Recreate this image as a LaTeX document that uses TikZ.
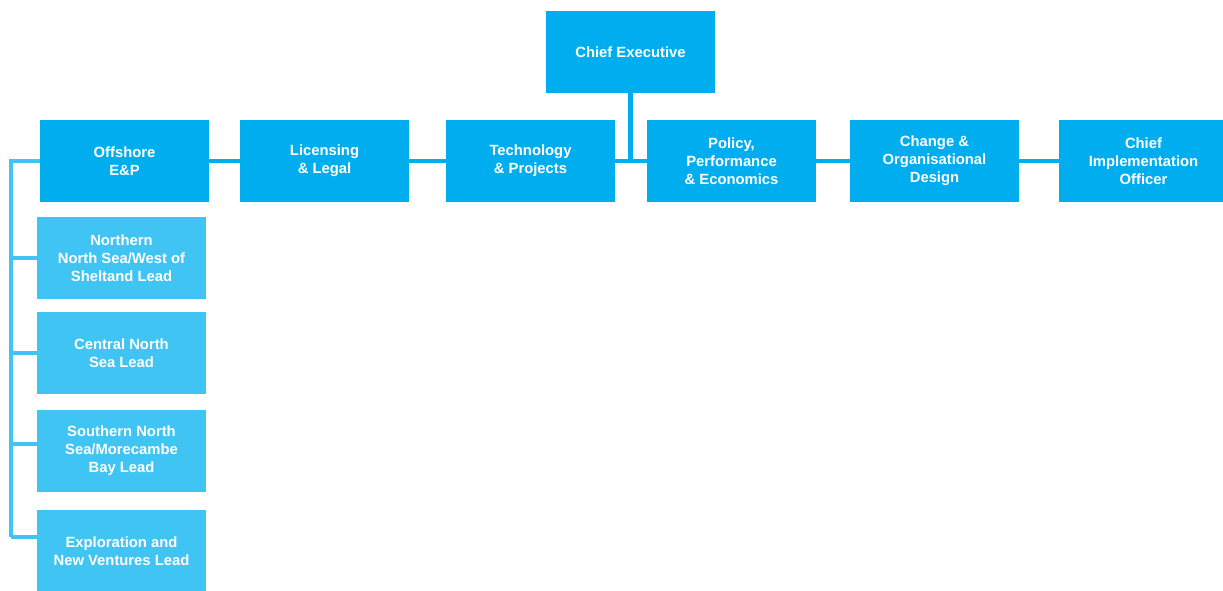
\documentclass[tikz,border=0pt]{standalone}
\usepackage{fontspec}
\setmainfont{Liberation Sans}
\usepackage{tikz}
\usetikzlibrary{positioning,backgrounds}
\definecolor{orgblue}{HTML}{00AEEF}
\definecolor{leadblue}{HTML}{40C4F3}

\begin{document}
\begin{tikzpicture}[x=1pt, y=-1pt,
        unitbox/.style={fill=orgblue, minimum width=169pt, minimum height=82pt, inner sep=0pt,
            align=center, text=white, font=\fontsize{14.8}{18}\selectfont\bfseries},
        leadbox/.style={unitbox, fill=leadblue},
        orgline/.style={orgblue, line width=4.2pt},
        leadline/.style={leadblue, line width=4.2pt}]
        \useasboundingbox (0,0) rectangle (1223,590);

        \coordinate (spinetop) at (11,161);
        \coordinate (b1) at (11,258);
        \coordinate (b2) at (11,353);
        \coordinate (b3) at (11,444);
        \coordinate (b4) at (11,537);

        \node[unitbox] (ceo) at (630.5,52) {Chief Executive};
        \node[unitbox] (offshore) at (124.5,161) {Offshore\\E\&P};
        \node[unitbox] (licensing) at (324.5,161) {Licensing\\\& Legal};
        \node[unitbox] (tech) at (530.5,161) {Technology\\\& Projects};
        \node[unitbox] (policy) at (731.5,161) {Policy,\\Performance\\\& Economics};
        \node[unitbox] (change) at (934.5,161) {Change \&\\Organisational\\Design};
        \node[unitbox] (cio) at (1143.5,161) {Chief\\Implementation\\Officer};

        \node[leadbox] (northern) at (121.5,258) {Northern\\North Sea/West of\\Sheltand Lead};
        \node[leadbox] (central) at (121.5,353) {Central North\\Sea Lead};
        \node[leadbox] (southern) at (121.5,451) {Southern North\\Sea/Morecambe\\Bay Lead};
        \node[leadbox] (explore) at (121.5,551) {Exploration and\\New Ventures Lead};

        % connectors behind the boxes
        \begin{scope}[on background layer]
        \draw[orgline] (offshore.center) -- (cio.center); % top row
        \draw[orgline] (ceo.center) -- (ceo.center |- tech.center);
        \draw[leadline] (offshore.center) -- (spinetop) -- (b4); % lead spine
        \draw[leadline] (b1) -- (northern.center |- b1);
        \draw[leadline] (b2) -- (central.center |- b2);
        \draw[leadline] (b3) -- (southern.center |- b3);
        \draw[leadline] (b4) -- (explore.center |- b4);
        \end{scope}

    \end{tikzpicture}
\end{document}
